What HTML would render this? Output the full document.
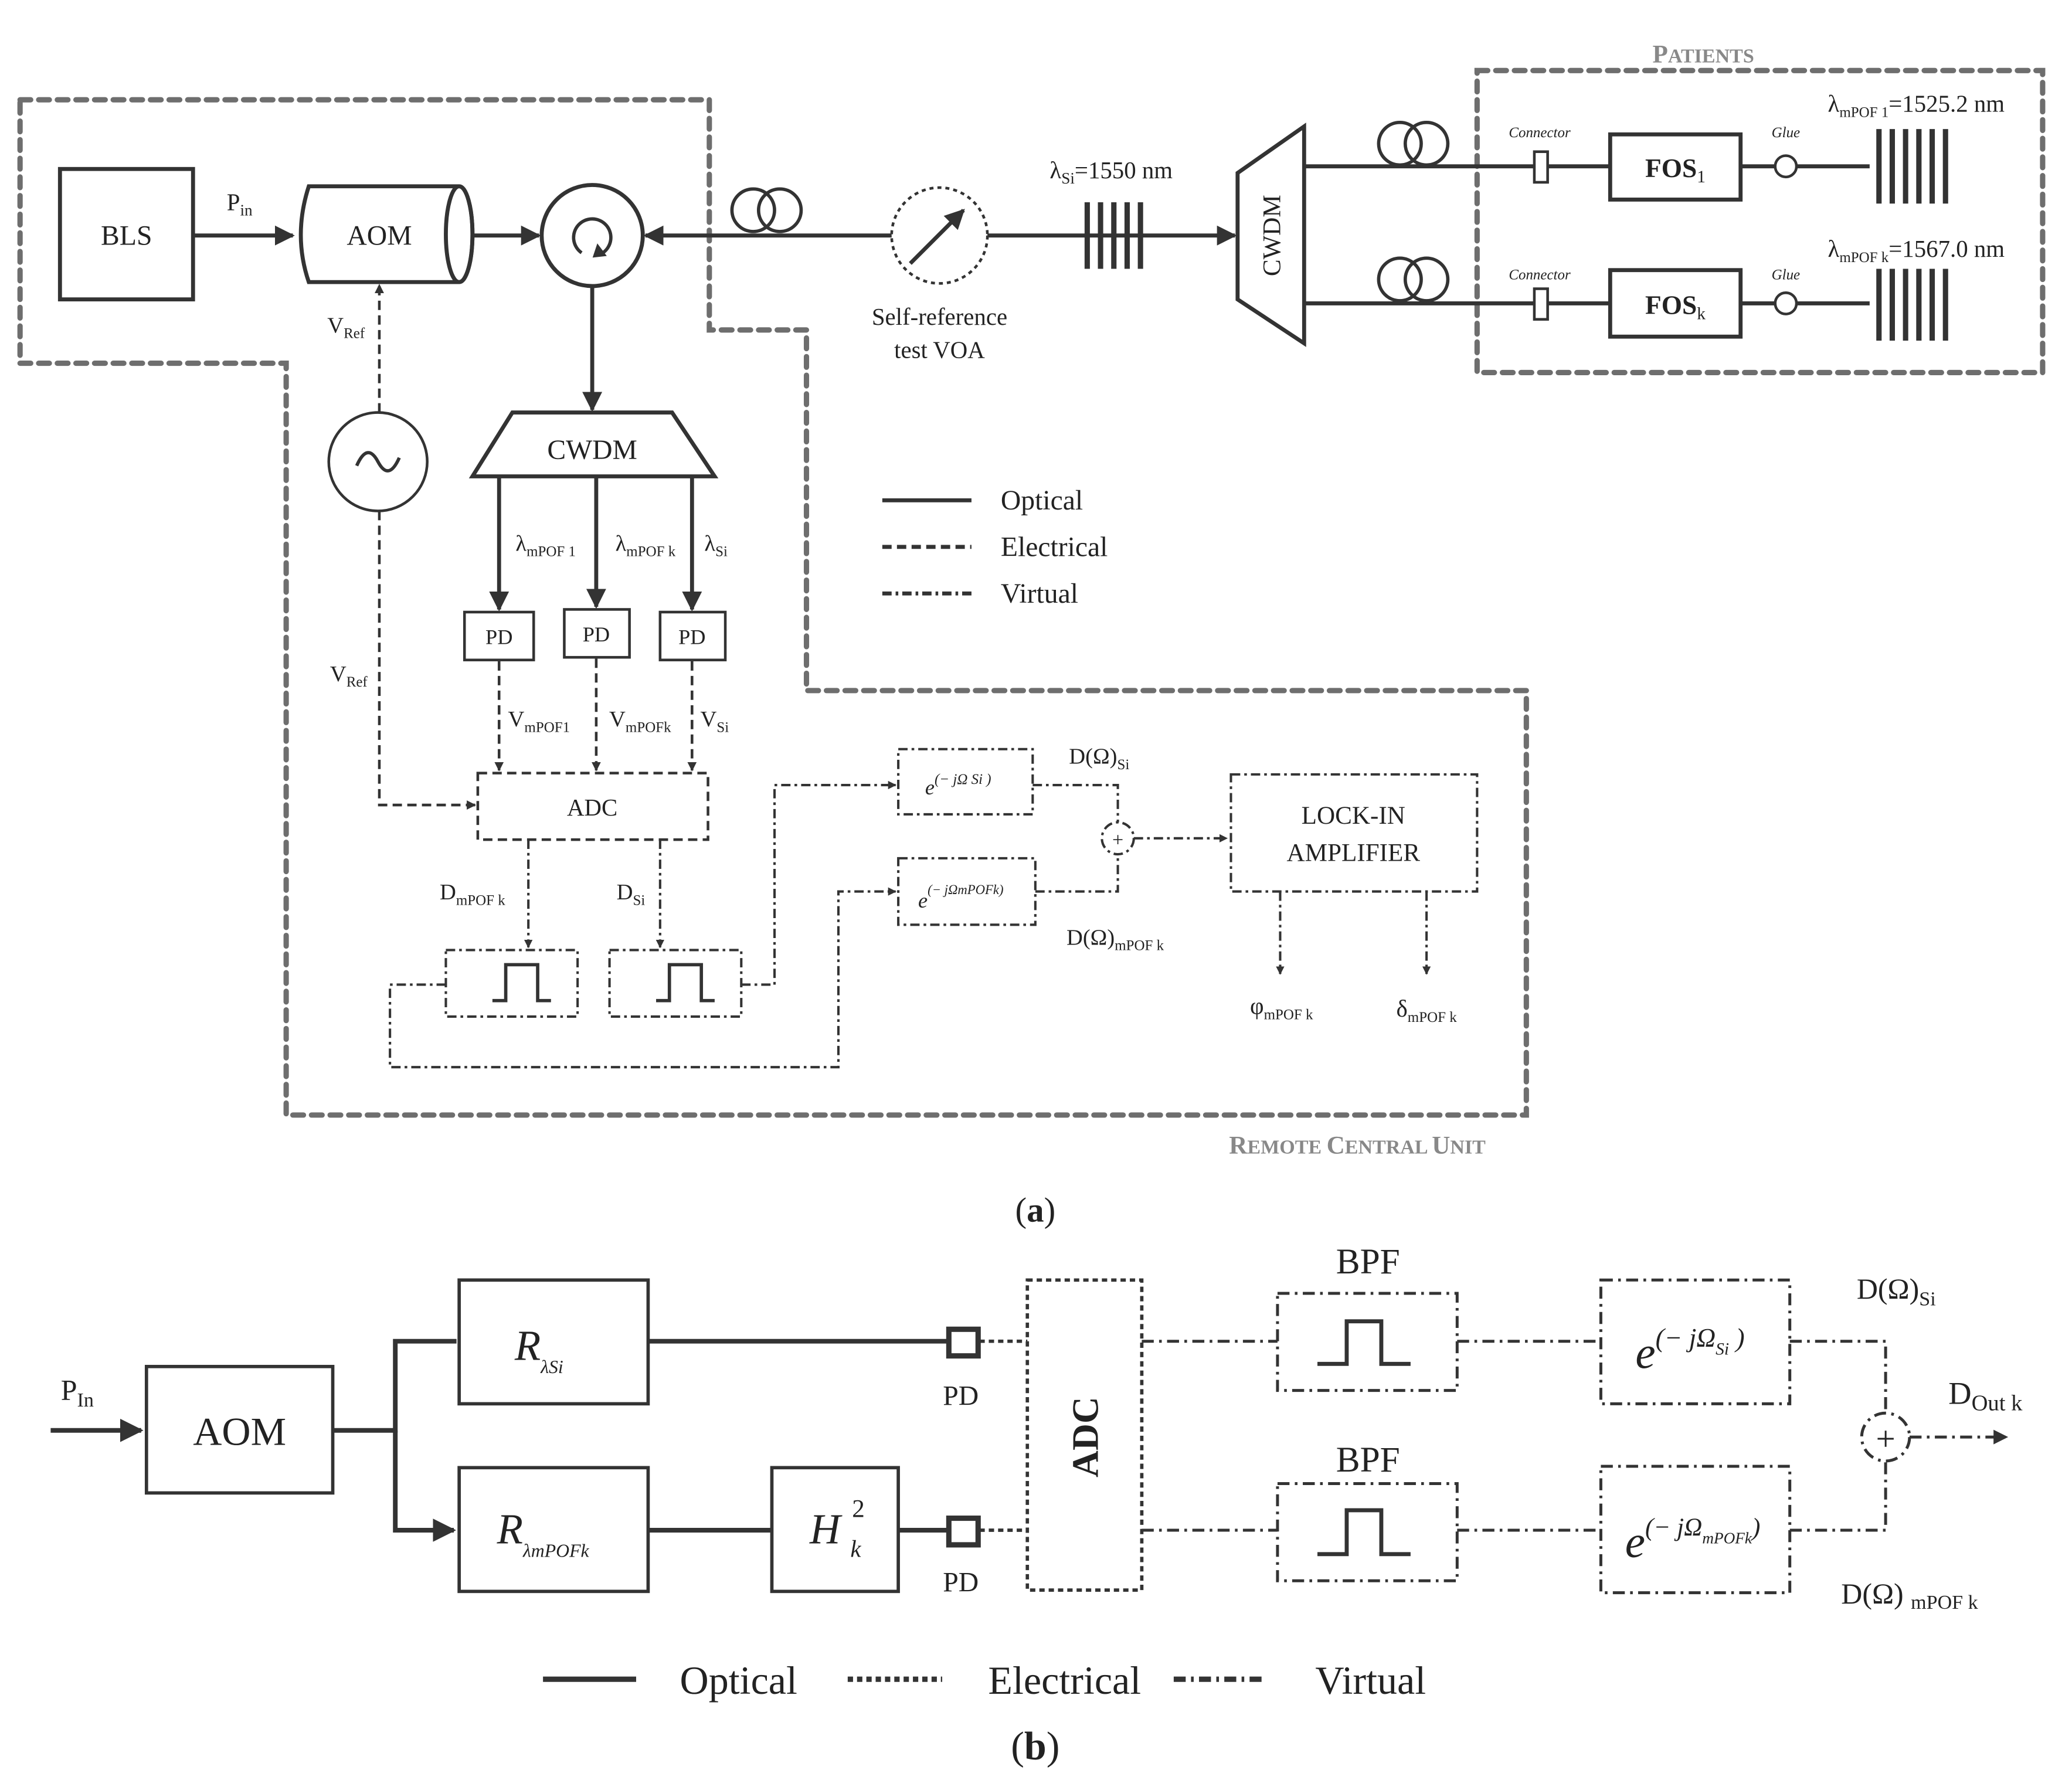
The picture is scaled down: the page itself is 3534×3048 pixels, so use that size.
<!DOCTYPE html>
<html><head><meta charset="utf-8"><style>html,body{margin:0;padding:0;background:#fff}svg{display:block}</style></head><body>
<svg width="3534" height="3048" viewBox="0 0 1557 1343" xmlns="http://www.w3.org/2000/svg" font-family="Liberation Serif, serif" fill="#222">
<defs>
<marker id="a" viewBox="0 0 10 10" refX="9" refY="5" markerWidth="5" markerHeight="5" orient="auto"><path d="M0,0L10,5L0,10z" fill="#333"/></marker>
<marker id="s" viewBox="0 0 10 10" refX="9" refY="5" markerWidth="3.5" markerHeight="3.5" orient="auto"><path d="M0,0L10,5L0,10z" fill="#333"/></marker>
</defs>
<rect width="1557" height="1343" fill="#fff"/>
<g fill="none" stroke="#6e6e6e" stroke-width="4" stroke-dasharray="8,6" stroke-linecap="round">
<path d="M15,75H533V248H606V519H1147V838H215V273H15Z"/>
<rect x="1110" y="53" width="425" height="227"/>
</g>
<text x="1280" y="47" text-anchor="middle" font-size="19" font-weight="bold" fill="#888">P<tspan font-size="15">ATIENTS</tspan></text>
<text x="1020" y="867" text-anchor="middle" font-size="19" font-weight="bold" fill="#888">R<tspan font-size="15">EMOTE </tspan>C<tspan font-size="15">ENTRAL </tspan>U<tspan font-size="15">NIT</tspan></text>
<g stroke="#333" stroke-width="3" fill="none">
<rect x="45" y="127" width="100" height="98" fill="#fff"/>
<line x1="145" y1="177" x2="220" y2="177" marker-end="url(#a)"/>
<path d="M232,140H345A10,36 0 0 1 345,212H232Q220,177 232,140Z" fill="#fff"/>
<ellipse cx="345" cy="176" rx="10" ry="36"/>
<line x1="355" y1="177" x2="405" y2="177" marker-end="url(#a)"/>
<circle cx="445" cy="177" r="38" fill="#fff"/>
<path d="M437,190A14,14 0 1 1 453,190" stroke-width="2.5"/>
<path d="M449,184L455,192L446,193Z" fill="#333" stroke-width="1"/>
<line x1="670" y1="177" x2="485" y2="177" marker-end="url(#a)"/>
<circle cx="566" cy="158" r="16" stroke-width="2.5"/><circle cx="586" cy="158" r="16" stroke-width="2.5"/>
<line x1="742" y1="177" x2="928" y2="177" marker-end="url(#a)"/>
<circle cx="706" cy="177" r="36" stroke-dasharray="3,3" stroke-width="2"/>
<line x1="684" y1="198" x2="724" y2="158" marker-end="url(#a)"/>
<path d="M817,152V202M827,152V202M837,152V202M847,152V202M857,152V202" stroke-width="4"/>
<path d="M930,130L980,95V258L930,225Z" fill="#fff"/>
<line x1="980" y1="125" x2="1405" y2="125"/><line x1="980" y1="228" x2="1405" y2="228"/>
<circle cx="1052" cy="108" r="16" stroke-width="2.5"/><circle cx="1072" cy="108" r="16" stroke-width="2.5"/>
<circle cx="1052" cy="210" r="16" stroke-width="2.5"/><circle cx="1072" cy="210" r="16" stroke-width="2.5"/>
<rect x="1153" y="114" width="10" height="23" fill="#fff" stroke-width="2"/>
<rect x="1153" y="217" width="10" height="23" fill="#fff" stroke-width="2"/>
<rect x="1210" y="101" width="98" height="49" fill="#fff"/>
<rect x="1210" y="203" width="98" height="50" fill="#fff"/>
<circle cx="1342" cy="125" r="8" fill="#fff" stroke-width="2"/>
<circle cx="1342" cy="228" r="8" fill="#fff" stroke-width="2"/>
<path d="M1412,97V153M1422,97V153M1432,97V153M1442,97V153M1452,97V153M1462,97V153M1412,202V256M1422,202V256M1432,202V256M1442,202V256M1452,202V256M1462,202V256" stroke-width="4"/>
<line x1="445" y1="215" x2="445" y2="308" marker-end="url(#a)"/>
<path d="M385,310H505L537,358H355Z" fill="#fff"/>
<line x1="375" y1="358" x2="375" y2="458" marker-end="url(#a)"/>
<line x1="448" y1="358" x2="448" y2="456" marker-end="url(#a)"/>
<line x1="520" y1="358" x2="520" y2="458" marker-end="url(#a)"/>
<rect x="349" y="460" width="52" height="36" stroke-width="2"/>
<rect x="424" y="458" width="49" height="36" stroke-width="2"/>
<rect x="496" y="460" width="49" height="36" stroke-width="2"/>
<circle cx="284" cy="347" r="37" stroke-width="2"/>
<path d="M268,350Q276,332 284,347T300,344" stroke-width="2.5"/>
<line x1="663" y1="376" x2="730" y2="376"/>
</g>
<g stroke="#333" stroke-width="2" fill="none" stroke-dasharray="7,4">
<line x1="285" y1="310" x2="285" y2="214" marker-end="url(#s)"/>
<path d="M285,384V605H357" marker-end="url(#s)"/>
<line x1="375" y1="497" x2="375" y2="579" marker-end="url(#s)"/>
<line x1="448" y1="495" x2="448" y2="579" marker-end="url(#s)"/>
<line x1="520" y1="497" x2="520" y2="579" marker-end="url(#s)"/>
<rect x="359" y="581" width="173" height="50"/>
<line x1="663" y1="411" x2="730" y2="411" stroke-width="3"/>
</g>
<g stroke="#333" stroke-width="1.8" fill="none" stroke-dasharray="7,3,2,3">
<line x1="397" y1="631" x2="397" y2="712" marker-end="url(#s)"/>
<line x1="496" y1="631" x2="496" y2="712" marker-end="url(#s)"/>
<rect x="335" y="714" width="99" height="50"/><rect x="458" y="714" width="99" height="50"/>
<path d="M557,740H582V590H673" marker-end="url(#s)"/>
<path d="M335,740H293V802H630V670H673" marker-end="url(#s)"/>
<rect x="675" y="563" width="101" height="49"/><rect x="675" y="645" width="103" height="50"/>
<path d="M776,590H840V618M778,670H840V642"/>
<circle cx="840" cy="630" r="12"/>
<line x1="852" y1="630" x2="922" y2="630" marker-end="url(#s)"/>
<rect x="925" y="582" width="185" height="88"/>
<line x1="962" y1="670" x2="962" y2="732" marker-end="url(#s)"/>
<line x1="1072" y1="670" x2="1072" y2="732" marker-end="url(#s)"/>
<line x1="663" y1="446" x2="730" y2="446" stroke-width="3"/>
</g>
<g stroke="#333" stroke-width="2.5" fill="none">
<path d="M370,752H380V725H404V752H414"/><path d="M493,752H503V725H527V752H537"/>
</g>
<g font-size="21" text-anchor="middle">
<text x="95" y="184">BLS</text><text x="285" y="184">AOM</text>
<text x="180" y="158" font-size="18">P<tspan font-size="12" dy="4">in</tspan></text>
<text x="706" y="244" font-size="18">Self-reference</text><text x="706" y="269" font-size="18">test VOA</text>
<text x="835" y="134" font-size="18">λ<tspan font-size="12" dy="4">Si</tspan><tspan dy="-4">=1550 nm</tspan></text>
<text transform="translate(962,177) rotate(-90)" font-size="19">CWDM</text>
<text x="1157" y="103" font-size="11" font-style="italic">Connector</text><text x="1157" y="210" font-size="11" font-style="italic">Connector</text>
<text x="1342" y="103" font-size="11" font-style="italic">Glue</text><text x="1342" y="210" font-size="11" font-style="italic">Glue</text>
<text x="1259" y="133" font-weight="bold" font-size="20">FOS<tspan font-size="13" font-weight="normal" dy="4">1</tspan></text>
<text x="1259" y="236" font-weight="bold" font-size="20">FOS<tspan font-size="13" font-weight="normal" dy="4">k</tspan></text>
<text x="1440" y="84" font-size="18">λ<tspan font-size="11" dy="4">mPOF 1</tspan><tspan dy="-4">=1525.2 nm</tspan></text>
<text x="1440" y="193" font-size="18">λ<tspan font-size="11" dy="4">mPOF k</tspan><tspan dy="-4">=1567.0 nm</tspan></text>
<text x="445" y="345">CWDM</text>
<text x="410" y="414" font-size="17">λ<tspan font-size="11" dy="4">mPOF 1</tspan></text>
<text x="485" y="414" font-size="17">λ<tspan font-size="11" dy="4">mPOF k</tspan></text>
<text x="538" y="414" font-size="17">λ<tspan font-size="11" dy="4">Si</tspan></text>
<text x="375" y="484" font-size="16">PD</text><text x="448" y="482" font-size="16">PD</text><text x="520" y="484" font-size="16">PD</text>
<text x="260" y="250" font-size="17">V<tspan font-size="11" dy="4">Ref</tspan></text>
<text x="262" y="512" font-size="17">V<tspan font-size="11" dy="4">Ref</tspan></text>
<text x="405" y="546" font-size="17">V<tspan font-size="11" dy="4">mPOF1</tspan></text>
<text x="481" y="546" font-size="17">V<tspan font-size="11" dy="4">mPOFk</tspan></text>
<text x="537" y="546" font-size="17">V<tspan font-size="11" dy="4">Si</tspan></text>
<text x="445" y="613" font-size="18">ADC</text>
<text x="355" y="676" font-size="17">D<tspan font-size="11" dy="4">mPOF k</tspan></text>
<text x="474" y="676" font-size="17">D<tspan font-size="11" dy="4">Si</tspan></text>
<text x="720" y="597" font-size="16" font-style="italic">e<tspan font-size="11" dy="-8">(− jΩ Si )</tspan></text>
<text x="722" y="682" font-size="16" font-style="italic">e<tspan font-size="10" dy="-10">(− jΩmPOFk)</tspan></text>
<text x="826" y="574" font-size="17">D(Ω)<tspan font-size="11" dy="4">Si</tspan></text>
<text x="838" y="710" font-size="17">D(Ω)<tspan font-size="11" dy="4">mPOF k</tspan></text>
<text x="840" y="636" font-size="15">+</text>
<text x="1017" y="619" font-size="19">LOCK-IN</text><text x="1017" y="647" font-size="19">AMPLIFIER</text>
<text x="963" y="762" font-size="18">φ<tspan font-size="11" dy="4">mPOF k</tspan></text>
<text x="1072" y="764" font-size="18">δ<tspan font-size="11" dy="4">mPOF k</tspan></text>
<text x="752" y="383" text-anchor="start">Optical</text>
<text x="752" y="418" text-anchor="start">Electrical</text>
<text x="752" y="453" text-anchor="start">Virtual</text>
<text x="778" y="918" font-size="26">(<tspan font-weight="bold">a</tspan>)</text>
</g>
<!-- (b) -->
<g stroke="#333" stroke-width="3.5" fill="none">
<line x1="38" y1="1075" x2="106" y2="1075" marker-end="url(#a)"/>
<rect x="110" y="1027" width="140" height="95" stroke-width="2.5"/>
<path d="M250,1075H297V1008H343"/>
<path d="M297,1075V1150H341" marker-end="url(#a)"/>
<rect x="345" y="962" width="142" height="93" stroke-width="2.5"/>
<rect x="345" y="1103" width="142" height="93" stroke-width="2.5"/>
<rect x="580" y="1103" width="95" height="93" stroke-width="2.5"/>
<line x1="487" y1="1008" x2="712" y2="1008"/>
<path d="M487,1150H580M675,1150H712"/>
<rect x="713" y="999" width="22" height="20" stroke-width="4"/>
<rect x="713" y="1141" width="22" height="20" stroke-width="4"/>
<line x1="408" y1="1262" x2="478" y2="1262" stroke-width="4"/>
<path d="M990,1025H1012V993H1038V1025H1060M990,1168H1012V1135H1038V1168H1060" stroke-width="3"/>
</g>
<g stroke="#333" stroke-width="2.5" fill="none" stroke-dasharray="4,3">
<path d="M736,1008H772M736,1150H772"/>
<rect x="772" y="962" width="86" height="233"/>
<line x1="637" y1="1262" x2="708" y2="1262" stroke-width="4"/>
</g>
<g stroke="#333" stroke-width="2.2" fill="none" stroke-dasharray="9,4,2,4">
<path d="M858,1008H960M858,1150H960M1095,1008H1203M1095,1150H1203"/>
<rect x="960" y="972" width="135" height="73"/><rect x="960" y="1115" width="135" height="73"/>
<rect x="1203" y="962" width="142" height="93"/><rect x="1203" y="1102" width="142" height="95"/>
<path d="M1345,1008H1417V1062M1345,1150H1417V1098"/>
<circle cx="1417" cy="1080" r="18"/>
<line x1="1435" y1="1080" x2="1508" y2="1080" marker-end="url(#a)"/>
<line x1="882" y1="1262" x2="952" y2="1262" stroke-width="4"/>
</g>
<g font-size="26" text-anchor="middle">
<text x="58" y="1052" font-size="22">P<tspan font-size="15" dy="5">In</tspan></text>
<text x="180" y="1086" font-size="30">AOM</text>
<text x="405" y="1022" font-size="32" font-style="italic">R<tspan font-size="14" dy="10">λSi</tspan></text>
<text x="408" y="1160" font-size="32" font-style="italic">R<tspan font-size="14" dy="10">λmPOFk</tspan></text>
<text x="620" y="1160" font-size="32" font-style="italic">H</text>
<text x="645" y="1140" font-size="19">2</text>
<text x="643" y="1170" font-size="18" font-style="italic">k</text>
<text x="722" y="1056" font-size="21">PD</text><text x="722" y="1196" font-size="21">PD</text>
<text transform="translate(825,1080) rotate(-90)" font-size="28" font-weight="bold">ADC</text>
<text x="1028" y="957" font-size="27">BPF</text><text x="1028" y="1106" font-size="27">BPF</text>
<text x="1270" y="1028" font-size="34" font-style="italic">e<tspan font-size="20" dy="-16">(− jΩ</tspan><tspan font-size="13" dy="6">Si</tspan><tspan font-size="20" dy="-6"> )</tspan></text>
<text x="1272" y="1170" font-size="34" font-style="italic">e<tspan font-size="19" dy="-16">(− jΩ</tspan><tspan font-size="12" dy="6">mPOFk</tspan><tspan font-size="19" dy="-6">)</tspan></text>
<text x="1425" y="976" font-size="22">D(Ω)<tspan font-size="15" dy="5">Si</tspan></text>
<text x="1492" y="1055" font-size="24">D<tspan font-size="17" dy="5">Out k</tspan></text>
<text x="1435" y="1205" font-size="22">D(Ω) <tspan font-size="15" dy="4">mPOF k</tspan></text>
<text x="1417" y="1090" font-size="26">+</text>
<text x="555" y="1273" font-size="30">Optical</text>
<text x="800" y="1273" font-size="30">Electrical</text>
<text x="1030" y="1273" font-size="30">Virtual</text>
<text x="778" y="1322" font-size="30">(<tspan font-weight="bold">b</tspan>)</text>
</g>
</svg>
</body></html>
